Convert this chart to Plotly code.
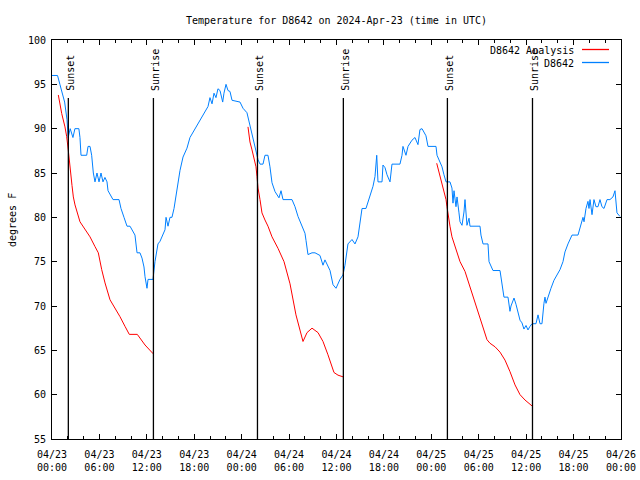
import pandas as pd
import plotly.graph_objects as go

BASE = pd.Timestamp("2024-04-23 00:00")

# Observed D8642 temperatures (hours since 04/23 00:00 UTC, degrees F)
obs_hours = [0.0, 0.7, 1.0, 1.6, 1.9, 2.05, 2.3, 2.65, 2.9, 3.4, 3.54, 3.67, 4.39, 4.56, 4.81, 5.02, 5.23,
             5.44, 5.69, 5.95, 6.2, 6.45, 6.7, 6.96, 7.09, 7.72, 8.48, 8.73, 9.11, 9.49, 9.87, 10.5, 10.76,
             11.13, 11.39, 11.64, 11.77, 11.89, 12.02, 12.15, 12.78, 13.03, 13.41, 13.67, 14.05, 14.3, 14.43,
             14.68, 14.93, 15.18, 15.44, 15.78, 15.94, 16.2, 16.58, 17.08, 17.46, 18.09, 18.73, 19.36, 19.74,
             19.99, 20.25, 20.5, 20.75, 21.0, 21.26, 21.6, 21.76, 22.02, 22.27, 22.52, 22.78, 23.79, 24.17,
             24.67, 24.93, 25.18, 25.43, 25.69, 25.94, 26.07, 26.32, 26.7, 26.95, 27.33, 27.58, 27.84, 28.22,
             28.72, 28.98, 29.23, 30.37, 30.75, 31.13, 31.63, 32.01, 32.14, 32.39, 32.9, 33.28, 33.91, 34.29,
             34.54, 34.92, 35.18, 35.56, 35.94, 36.44, 36.82, 37.07, 37.45, 37.96, 38.34, 38.72, 38.97, 39.23,
             39.73, 40.11, 40.36, 40.62, 40.87, 41.09, 41.25, 41.76, 41.88, 42.14, 42.39, 42.77, 43.02, 44.03,
             44.29, 44.41, 44.79, 45.05, 45.55, 45.93, 46.31, 46.56, 46.82, 47.07, 47.32, 47.58, 48.59, 48.72,
             49.1, 49.35, 49.6, 49.86, 50.36, 50.61, 50.74, 50.87, 51.12, 51.25, 51.5, 51.63, 51.88, 52.13,
             52.26, 52.39, 52.51, 52.77, 52.89, 54.16, 54.28, 54.54, 55.17, 55.3, 55.8, 56.69, 56.94, 57.19,
             57.7, 57.95, 58.08, 58.46, 58.71, 58.97, 59.22, 59.47, 59.72, 59.98, 60.23, 60.48, 60.74, 61.24,
             61.37, 61.5, 61.75, 62.0, 62.25, 62.38, 62.51, 62.76, 63.01, 63.14, 63.52, 63.9, 64.28, 64.66,
             64.91, 65.29, 65.8, 66.56, 66.81, 67.06, 67.19, 67.32, 67.44, 67.57, 67.82, 67.95, 68.08, 68.33,
             68.58, 68.83, 69.09, 69.34, 69.59, 69.85, 70.23, 70.6, 70.98, 71.24, 71.49, 71.87]
obs_temps = [96, 96, 95, 93, 91, 89, 90, 89, 90, 90, 89, 87, 87, 88, 88, 87, 85,
             84, 85, 84, 85, 84, 84.5, 84, 83, 82, 82, 81, 80, 79, 79, 78, 76,
             76, 75.4, 74.4, 73.3, 72.7, 72, 73, 73, 75, 77, 77.3, 78, 78.6, 80,
             79, 80, 80, 81, 83, 84, 85.3, 86.8, 87.8, 89, 90, 91, 92, 92.5,
             93.5, 92.8, 94, 93.5, 94.5, 94.3, 93.0, 94, 95, 94.3, 94.2, 93.2, 93, 92.3,
             91.8, 90.8, 90.2, 89.1, 88, 87.3, 86.5, 86, 86, 87, 87, 85.7, 83.9, 82.9,
             82.2, 83, 82, 82, 81.2, 80.1, 79.1, 78.2, 77.4, 75.8, 76, 76, 75.7, 74.6,
             75.2, 74.5, 74, 72.4, 72, 73, 73.5, 74.6, 77, 77.5, 77, 77.8, 79.4, 81,
             81, 82, 82.7, 83.5, 84.6, 87, 84, 84, 85.9, 85.6, 84.8, 84, 86, 86,
             87, 88, 87, 88, 88.7, 89, 88.2, 89.9, 90, 89.6, 89.2, 88, 88, 87,
             86.3, 85.7, 84.8, 84, 84, 83.3, 81.6, 83, 81.2, 82.3, 80.5, 79.5, 79.1, 80.6,
             82, 80.8, 79.1, 79.9, 79, 79, 78, 77, 77, 75, 74, 74, 72.4, 71,
             71, 69.4, 70, 70.9, 70.2, 69.2, 68.4, 68.1, 67.4, 67.8, 67.3, 67.7, 68, 68,
             68.4, 69, 68, 68, 70.3, 71, 70.3, 71, 71.8, 72, 72.9, 73.5, 74.1, 75,
             76.1, 77, 78, 78, 78.8, 79.5, 80, 79.5, 80.6, 81, 81.8, 81, 82, 80.3,
             82, 81.2, 81.2, 82, 81.2, 81, 82, 82, 82.3, 83, 80.5, 80.1]

# Analysis series, three night-time segments
ana1_hours = [0.8, 1.23, 1.64, 1.86, 2.06, 2.28, 2.53, 2.7, 2.91, 3.54, 3.96, 4.81, 5.44, 5.86, 6.29,
              6.71, 7.34, 7.97, 8.6, 9.24, 9.78, 10.79, 11.13, 11.77, 12.82]
ana1_temps = [93.8, 91.7, 90.2, 89.1, 87.6, 85.3, 83.6, 82.3, 81.4, 79.5, 78.9, 77.8, 76.7, 76, 74.1,
              72.6, 70.7, 69.8, 68.8, 67.7, 66.8, 66.8, 66.4, 65.6, 64.6]
ana2_hours = [24.8, 25.05, 25.31, 25.56, 25.81, 25.94, 26.07, 26.32, 26.57, 26.95, 27.33, 27.84, 28.6,
              29.36, 30.12, 30.87, 31.76, 32.27, 32.9, 33.66, 34.29, 34.92, 35.68, 36.19, 36.86]
ana2_temps = [90.2, 88.5, 87.6, 86.5, 85.7, 84.6, 83.3, 82, 80.5, 79.7, 79, 77.8, 76.5,
              75, 72.5, 69, 66, 67, 67.5, 67, 66, 64.5, 62.5, 62.2, 62]
ana3_hours = [48.68, 49.1, 49.35, 49.6, 49.86, 49.98, 50.11, 50.36, 50.61, 50.87, 51.25, 51.63, 52.26,
              52.89, 53.52, 54.16, 54.66, 55.04, 55.42, 56.06, 56.69, 57.32, 57.95, 58.59, 59.22, 59.85, 60.78]
ana3_temps = [86.1, 84.6, 83.6, 82.7, 82, 81.2, 80.3, 79, 77.8, 77.1, 76.1, 75, 73.9,
              72.2, 70.5, 68.8, 67.3, 66.2, 65.8, 65.4, 64.8, 63.9, 62.6, 61.1, 60, 59.4, 58.7]

# Sun events
sun_labels = ["Sunset", "Sunrise", "Sunset", "Sunrise", "Sunset", "Sunrise"]
sun_times = ["2024-04-23 02:04", "2024-04-23 12:50", "2024-04-24 02:00",
             "2024-04-24 12:52", "2024-04-25 02:02", "2024-04-25 12:48"]

# Tick labels
tick_times = ["2024-04-23 00:00", "2024-04-23 06:00", "2024-04-23 12:00", "2024-04-23 18:00",
              "2024-04-24 00:00", "2024-04-24 06:00", "2024-04-24 12:00", "2024-04-24 18:00",
              "2024-04-25 00:00", "2024-04-25 06:00", "2024-04-25 12:00", "2024-04-25 18:00",
              "2024-04-26 00:00"]
tick_text = ["04/23<br>00:00", "04/23<br>06:00", "04/23<br>12:00", "04/23<br>18:00",
             "04/24<br>00:00", "04/24<br>06:00", "04/24<br>12:00", "04/24<br>18:00",
             "04/25<br>00:00", "04/25<br>06:00", "04/25<br>12:00", "04/25<br>18:00",
             "04/26<br>00:00"]
y_ticks = [55, 60, 65, 70, 75, 80, 85, 90, 95, 100]

FONT = "DejaVu Sans Mono"
FS = 10
RED = "#ff0000"
BLUE = "#0080ff"


def to_time(hours):
    return list(BASE + pd.to_timedelta(hours, unit="h"))


ana_x, ana_y = [], []
for hs, ts in [(ana1_hours, ana1_temps), (ana2_hours, ana2_temps), (ana3_hours, ana3_temps)]:
    if ana_x:
        ana_x.append(None)
        ana_y.append(None)
    ana_x += to_time(hs)
    ana_y += ts

fig = go.Figure()
fig.add_trace(go.Scatter(x=ana_x, y=ana_y, mode="lines", name="D8642 Analysis",
                         line=dict(color=RED, width=1), connectgaps=False, showlegend=False))
fig.add_trace(go.Scatter(x=to_time(obs_hours), y=obs_temps, mode="lines", name="D8642",
                         line=dict(color=BLUE, width=1), showlegend=False))

L, R, T, B = 52, 621, 40, 439
pw, ph = R - L, B - T


def px(xp):
    return (xp - L) / pw


def py(yp):
    return (B - yp) / ph


for lab, t in zip(sun_labels, sun_times):
    fig.add_shape(type="line", xref="x", yref="paper", x0=t, x1=t, y0=0, y1=py(98),
                  line=dict(color="black", width=1.3))
    fig.add_annotation(x=t, y=py(93), xref="x", yref="paper", text=lab, textangle=-90,
                       showarrow=False, xanchor="center", yanchor="bottom", xshift=1.5,
                       font=dict(family=FONT, size=FS, color="black"))

# legend
legend_items = [("D8642 Analysis", RED, 50), ("D8642", BLUE, 63)]
for name, col, yy in legend_items:
    fig.add_annotation(x=px(576), y=py(yy), xref="paper", yref="paper", text=name,
                       showarrow=False, xanchor="right", yanchor="middle",
                       font=dict(family=FONT, size=FS, color="black"))
    fig.add_shape(type="line", xref="paper", yref="paper", x0=px(582), x1=px(609),
                  y0=py(yy - 0.5), y1=py(yy - 0.5), line=dict(color=col, width=1.3))

fig.add_annotation(x=px(12), y=py(220), xref="paper", yref="paper", text="degrees F",
                   textangle=-90, showarrow=False, xanchor="center", yanchor="middle",
                   font=dict(family=FONT, size=FS, color="black"))

fig.update_layout(
    width=640, height=480, autosize=False,
    margin=dict(l=L, r=640 - R, t=T, b=480 - B, autoexpand=False),
    paper_bgcolor="white", plot_bgcolor="white",
    title=dict(text="Temperature for D8642 on 2024-Apr-23 (time in UTC)", x=0.5, xref="paper",
               y=1 - 20 / 480, yanchor="middle", xanchor="center",
               font=dict(family=FONT, size=FS, color="black")),
    font=dict(family=FONT, size=FS, color="black"),
    showlegend=False,
)
fig.update_xaxes(range=[tick_times[0], tick_times[-1]], tickvals=tick_times, ticktext=tick_text,
                 automargin=False, ticklabelstandoff=6,
                 showgrid=False, zeroline=False, showline=True, linecolor="black", linewidth=1,
                 mirror="allticks", ticks="inside", ticklen=5, tickcolor="black",
                 minor=dict(dtick=2 * 3600 * 1000, ticks="inside", ticklen=3, tickcolor="black",
                            showgrid=False),
                 tickfont=dict(family=FONT, size=FS, color="black"))
fig.update_yaxes(range=[55, 100], tickvals=y_ticks, showgrid=False, zeroline=False, showline=True,
                 automargin=False, ticklabelstandoff=3,
                 linecolor="black", linewidth=1, mirror="allticks", ticks="inside", ticklen=5,
                 tickcolor="black", tickfont=dict(family=FONT, size=FS, color="black"))

fig.write_html("out.html")
